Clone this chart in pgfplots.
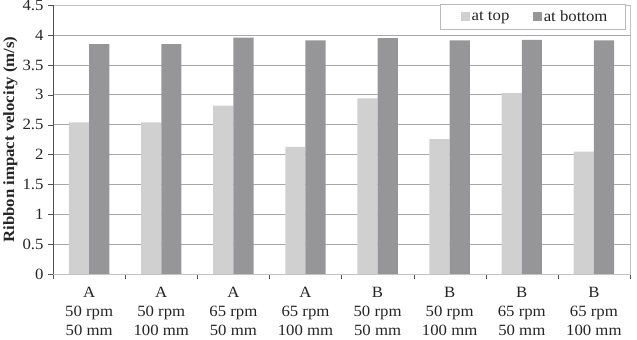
\documentclass[border=0pt]{standalone}
\usepackage{pgfplots}
\pgfplotsset{compat=1.18}
\usepackage{fontspec}
\setmainfont[FakeStretch=1.07]{Liberation Serif}
\definecolor{topbar}{HTML}{D0D0D0}
\definecolor{botbar}{HTML}{969699}
\definecolor{gridgray}{HTML}{A8A8A8}
\definecolor{txt}{HTML}{252525}
\pgfplotstableread{
x top bottom
0 2.54 3.85
1 2.54 3.85
2 2.82 3.96
3 2.13 3.91
4 2.94 3.95
5 2.26 3.91
6 3.03 3.92
7 2.05 3.91
}\velocity
\newcommand{\chartfont}{\fontsize{15.5}{19}\selectfont}
\begin{document}
\begin{tikzpicture}
\begin{axis}[
  scale only axis,
  width=571pt, height=266pt,
  ybar=0pt, bar width=20pt,
  xmin=-0.5, xmax=7.5,
  ymin=0, ymax=4.5,
  ytick={0,0.5,...,4.5},
  xtick={0,...,7},
  xticklabels={{A\\50 rpm\\50 mm},{A\\50 rpm\\100 mm},{A\\65 rpm\\50 mm},{A\\65 rpm\\100 mm},
               {B\\50 rpm\\50 mm},{B\\50 rpm\\100 mm},{B\\65 rpm\\50 mm},{B\\65 rpm\\100 mm}},
  minor xtick={-0.5,0.5,...,7.5},
  major x tick style={draw=none},
  minor x tick style={draw=txt!80},
  y tick style={draw=txt!80},
  tick align=outside,
  major tick length=5pt, minor tick length=5pt,
  xtick pos=bottom, ytick pos=left,
  ymajorgrids,
  grid style={gridgray, line width=0.8pt},
  axis line style={draw=gridgray!70},
  /pgf/number format/assume math mode=true,
  tick label style={font=\chartfont, text=txt},
  xticklabel style={align=center, yshift=-7pt, inner ysep=0.5pt},
  yticklabel style={xshift=-1pt, inner ysep=0pt},
  ylabel={\textbf{Ribbon impact velocity (m/s)}},
  ylabel style={font=\fontsize{15.5}{17}\selectfont, text=txt, yshift=-2pt},
  legend style={at={(rel axis cs:0.993,1)}, anchor=north east, yshift=1pt,
    draw=gridgray!80, font=\fontsize{15.5}{17}\selectfont, text=txt,
    legend columns=2,
    /tikz/every even column/.append style={column sep=17pt},
    nodes={inner xsep=2pt, inner ysep=2.5pt},
    inner xsep=16pt, inner ysep=3.5pt},
  legend image code/.code={\path (0pt,0pt) -- (4pt,0pt);
    \fill[#1] (4pt,-4.5pt) rectangle (13pt,4.5pt);},
]
\addplot[fill=topbar, draw=none] table[x=x, y=top] {\velocity};
\addplot[fill=botbar, draw=none] table[x=x, y=bottom] {\velocity};
\legend{at top, at bottom}
\draw[txt!80, line width=0.8pt] (rel axis cs:0,1) -- (rel axis cs:0,0) -- (rel axis cs:1,0);
\end{axis}
% white margins on the right and below the category labels
\path (current axis.south east) ++(7pt,0pt);
\path (current axis.outer south) ++(0pt,-3pt);
\end{tikzpicture}
\end{document}
